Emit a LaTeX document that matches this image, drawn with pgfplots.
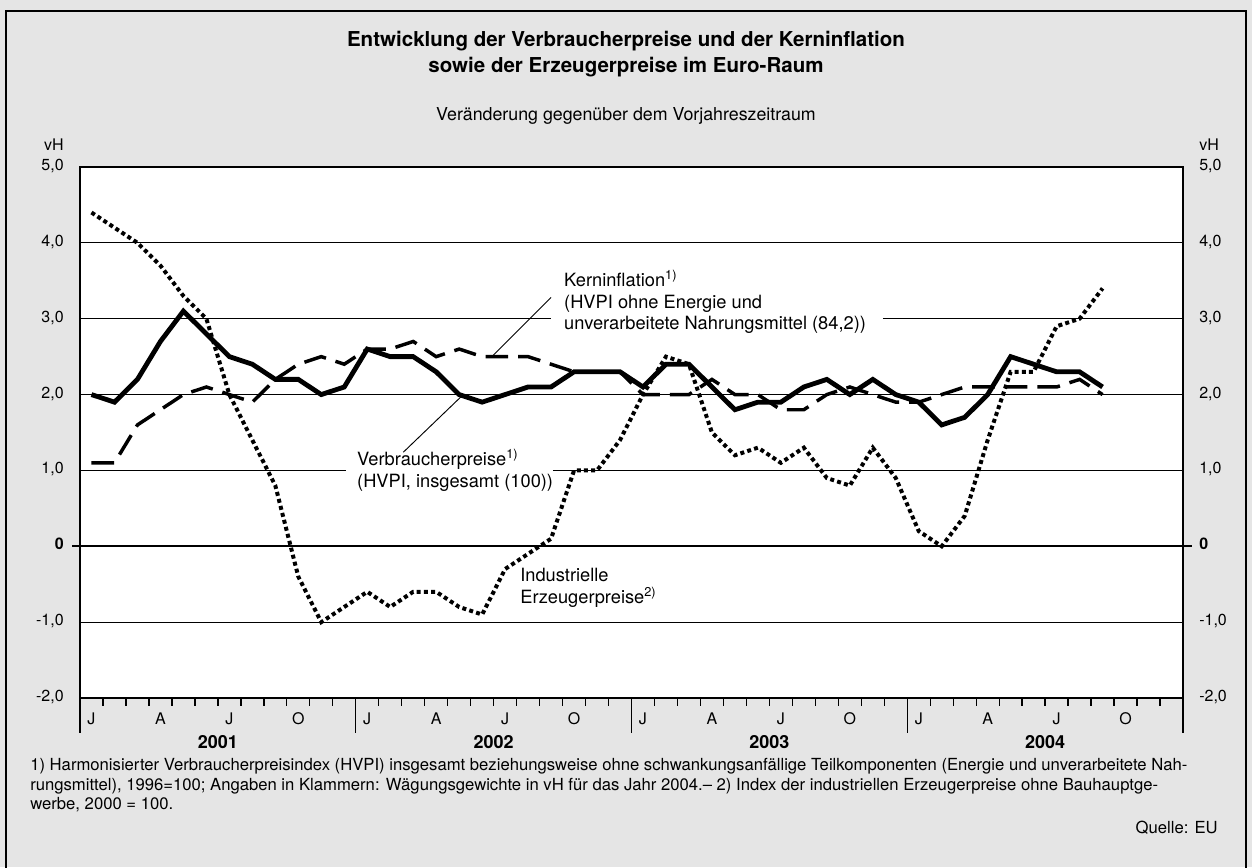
\documentclass[border=0pt]{standalone}
\usepackage{fontspec}
\setmainfont{TeX Gyre Heros}
\usepackage{pgfplots}
\pgfplotsset{compat=1.18}
\definecolor{bggray}{RGB}{229,229,229}
\tikzset{every node/.append style={inner sep=0pt},
  ylab/.style={font=\fontsize{12}{14}\selectfont},
  lab/.style={font=\fontsize{13.7}{16}\selectfont, anchor=mid west}}

\pgfplotstableread{
x    hvpi  kern  erz
0.5  2.0   1.1   4.4
1.5  1.9   1.1   4.2
2.5  2.2   1.6   4.0
3.5  2.7   1.8   3.7
4.5  3.1   2.0   3.3
5.5  2.8   2.1   3.0
6.5  2.5   2.0   2.0
7.5  2.4   1.9   1.4
8.5  2.2   2.2   0.8
9.5  2.2   2.4  -0.4
10.5 2.0   2.5  -1.0
11.5 2.1   2.4  -0.8
12.5 2.6   2.6  -0.6
13.5 2.5   2.6  -0.8
14.5 2.5   2.7  -0.6
15.5 2.3   2.5  -0.6
16.5 2.0   2.6  -0.8
17.5 1.9   2.5  -0.9
18.5 2.0   2.5  -0.3
19.5 2.1   2.5  -0.1
20.5 2.1   2.4   0.1
21.5 2.3   2.3   1.0
22.5 2.3   2.3   1.0
23.5 2.3   2.3   1.4
24.5 2.1   2.0   2.0
25.5 2.4   2.0   2.5
26.5 2.4   2.0   2.4
27.5 2.1   2.2   1.5
28.5 1.8   2.0   1.2
29.5 1.9   2.0   1.3
30.5 1.9   1.8   1.1
31.5 2.1   1.8   1.3
32.5 2.2   2.0   0.9
33.5 2.0   2.1   0.8
34.5 2.2   2.0   1.3
35.5 2.0   1.9   0.9
36.5 1.9   1.9   0.2
37.5 1.6   2.0   0.0
38.5 1.7   2.1   0.4
39.5 2.0   2.1   1.4
40.5 2.5   2.1   2.3
41.5 2.4   2.1   2.3
42.5 2.3   2.1   2.9
43.5 2.3   2.2   3.0
44.5 2.1   2.0   3.4
}\datatable

\begin{document}
\begin{tikzpicture}[x=0.75pt,y=0.75pt]
\useasboundingbox (0,0) rectangle (1252,867);
\fill[bggray] (0,0) rectangle (1252,867);
\draw[line width=1.2pt] (6,-10) -- (6,856) -- (1246,856) -- (1246,-10);

% titles
\node[font=\fontsize{15.4}{18}\selectfont\bfseries, anchor=mid] at (626,867-43) {Entwicklung der Verbraucherpreise und der Kerninflation};
\node[font=\fontsize{15.4}{18}\selectfont\bfseries, anchor=mid] at (626,867-69) {sowie der Erzeugerpreise im Euro-Raum};
\node[font=\fontsize{13.35}{16}\selectfont, anchor=mid] at (626,867-117) {Veränderung gegenüber dem Vorjahreszeitraum};

% footnote
\node[font=\fontsize{12.5}{14}\selectfont, anchor=mid west] at (30,867-767) {1) Harmonisierter Verbraucherpreisindex (HVPI) insgesamt beziehungsweise ohne schwankungsanfällige Teilkomponenten (Energie und unverarbeitete Nah-};
\node[font=\fontsize{12.5}{14}\selectfont, anchor=mid west] at (30,867-787) {rungsmittel), 1996=100; Angaben in Klammern: Wägungsgewichte in vH für das Jahr 2004.– 2) Index der industriellen Erzeugerpreise ohne Bauhauptge-};
\node[font=\fontsize{12.5}{14}\selectfont, anchor=mid west] at (30,867-806) {werbe, 2000 = 100.};
\node[font=\fontsize{12.5}{14}\selectfont, anchor=mid east] at (1218,867-830) {Quelle: EU};

\begin{axis}[
  at={(60pt,126.75pt)}, anchor=south west,
  scale only axis, width=827.25pt, height=398.25pt,
  xmin=0, xmax=48, ymin=-2, ymax=5,
  axis line style={draw=none},
  xtick=\empty, ytick=\empty,
  clip=false,
  axis background/.style={fill=white},
]
% grid lines
\draw[line width=0.9pt] (axis cs:0,4) -- (axis cs:48,4);
\draw[line width=0.9pt] (axis cs:0,3) -- (axis cs:20.5,3);
\draw[line width=0.9pt] (axis cs:34.94,3) -- (axis cs:48,3);
\draw[line width=0.9pt] (axis cs:0,2) -- (axis cs:48,2);
\draw[line width=0.9pt] (axis cs:0,1) -- (axis cs:11.58,1);
\draw[line width=0.9pt] (axis cs:20.58,1) -- (axis cs:48,1);
\draw[line width=0.9pt] (axis cs:0,-1) -- (axis cs:48,-1);
\draw[line width=1.8pt] (axis cs:-0.33,0) -- (axis cs:48.38,0);

% leader lines
\draw[line width=0.7pt] (axis cs:20.5,3.28) -- (axis cs:17.99,2.52);
\draw[line width=0.7pt] (axis cs:14.07,1.24) -- (axis cs:16.68,2.0);

% series labels
\node[lab] at (axis cs:21.06,3.465) {Kerninflation\textsuperscript{1)}};
\node[lab] at (axis cs:21.06,3.18) {(HVPI ohne Energie und};
\node[lab] at (axis cs:21.06,2.90) {unverarbeitete Nahrungsmittel (84,2))};
\node[lab] at (axis cs:12.05,1.107) {Verbraucherpreise\textsuperscript{1)}};
\node[lab] at (axis cs:12.05,0.823) {(HVPI, insgesamt (100))};
\node[lab] at (axis cs:19.15,-0.42) {Industrielle};
\node[lab] at (axis cs:19.15,-0.71) {Erzeugerpreise\textsuperscript{2)}};

% data
\addplot[black, line width=2.6pt, line join=miter, dash pattern=on 17pt off 7.5pt] table[x=x,y=kern] {\datatable};
\addplot[black, line width=3.6pt, line join=miter] table[x=x,y=hvpi] {\datatable};
\addplot[black, line width=3pt, dash pattern=on 3pt off 2.4pt] table[x=x,y=erz] {\datatable};

% frame
\draw[line width=1.4pt] (axis cs:0,-2) -- (axis cs:0,5);
\draw[line width=1.4pt] (axis cs:48,-2) -- (axis cs:48,5);
\draw[line width=2pt, line cap=rect] (axis cs:0,5) -- (axis cs:48,5);
\draw[line width=2pt, line cap=rect] (axis cs:0,-2) -- (axis cs:48,-2);

% x ticks
\pgfplotsinvokeforeach{1,...,47}{\draw[line width=1pt] (axis cs:#1,-2) -- ++(0pt,-6pt);}
\pgfplotsinvokeforeach{0,12,24,36,48}{\draw[line width=1.1pt] (axis cs:#1,-2) -- ++(0pt,-26pt);}
\pgfplotsinvokeforeach{0.5,12.5,24.5,36.5,6.5,18.5,30.5,42.5}{\node[ylab, anchor=mid, yshift=-17pt] at (axis cs:#1,-2) {J};}
\pgfplotsinvokeforeach{3.5,15.5,27.5,39.5}{\node[ylab, anchor=mid, yshift=-17pt] at (axis cs:#1,-2) {A};}
\pgfplotsinvokeforeach{9.5,21.5,33.5,45.5}{\node[ylab, anchor=mid, yshift=-17pt] at (axis cs:#1,-2) {O};}
\node[font=\fontsize{13.5}{15}\selectfont\bfseries, anchor=mid, yshift=-35.5pt] at (axis cs:6,-2) {2001};
\node[font=\fontsize{13.5}{15}\selectfont\bfseries, anchor=mid, yshift=-35.5pt] at (axis cs:18,-2) {2002};
\node[font=\fontsize{13.5}{15}\selectfont\bfseries, anchor=mid, yshift=-35.5pt] at (axis cs:30,-2) {2003};
\node[font=\fontsize{13.5}{15}\selectfont\bfseries, anchor=mid, yshift=-35.5pt] at (axis cs:42,-2) {2004};

% y tick labels
\node[ylab, anchor=mid east, xshift=-12pt, yshift=15pt] at (axis cs:0,5) {vH};
\node[ylab, anchor=mid west, xshift=12pt, yshift=15pt] at (axis cs:48,5) {vH};
\node[ylab, anchor=mid east, xshift=-12pt] at (axis cs:0,5) {5,0};
\node[ylab, anchor=mid east, xshift=-12pt] at (axis cs:0,4) {4,0};
\node[ylab, anchor=mid east, xshift=-12pt] at (axis cs:0,3) {3,0};
\node[ylab, anchor=mid east, xshift=-12pt] at (axis cs:0,2) {2,0};
\node[ylab, anchor=mid east, xshift=-12pt] at (axis cs:0,1) {1,0};
\node[ylab, anchor=mid east, xshift=-12pt] at (axis cs:0,0) {\bfseries 0};
\node[ylab, anchor=mid east, xshift=-12pt] at (axis cs:0,-1) {-1,0};
\node[ylab, anchor=mid east, xshift=-12pt] at (axis cs:0,-2) {-2,0};
\node[ylab, anchor=mid west, xshift=12pt] at (axis cs:48,5) {5,0};
\node[ylab, anchor=mid west, xshift=12pt] at (axis cs:48,4) {4,0};
\node[ylab, anchor=mid west, xshift=12pt] at (axis cs:48,3) {3,0};
\node[ylab, anchor=mid west, xshift=12pt] at (axis cs:48,2) {2,0};
\node[ylab, anchor=mid west, xshift=12pt] at (axis cs:48,1) {1,0};
\node[ylab, anchor=mid west, xshift=12pt] at (axis cs:48,0) {\bfseries 0};
\node[ylab, anchor=mid west, xshift=12pt] at (axis cs:48,-1) {-1,0};
\node[ylab, anchor=mid west, xshift=12pt] at (axis cs:48,-2) {-2,0};
\end{axis}
\end{tikzpicture}
\end{document}
